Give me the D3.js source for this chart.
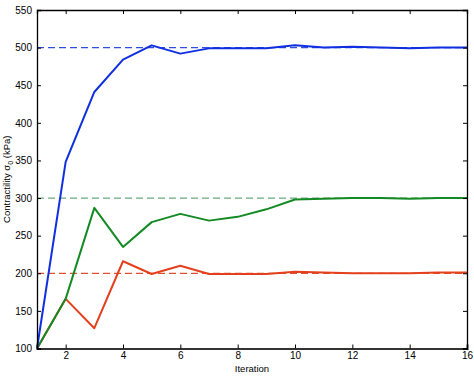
<!DOCTYPE html>
<html>
<head>
<meta charset="utf-8">
<script src="https://cdn.jsdelivr.net/npm/d3@7"></script>
<style>
  body { margin: 0; background: #fff; }
  text { font-family: "Liberation Sans", Arial, sans-serif; }
</style>
</head>
<body>
<div id="chart"></div>
<script>
// iterations and contractility estimates (kPa)
var iterations = d3.range(1, 17);
var blueVals  = [100, 348, 441, 484, 503, 492, 499, 499, 499, 503, 500, 501, 500, 499, 500, 500];
var greenVals = [100, 166, 287, 235, 268, 279, 270, 275, 285, 298, 299, 300, 300, 299, 300, 300];
var redVals   = [100, 166, 127, 216, 199, 210, 199, 199, 199, 202, 201, 200, 200, 200, 201, 201];
var targets = [500, 300, 200];
var xTicks = [2, 4, 6, 8, 10, 12, 14, 16];
var yTicks = [100, 150, 200, 250, 300, 350, 400, 450, 500, 550];

var series = [
  {vals: blueVals,  color: "#0f2fe0", dash: "#2f4fe0", target: targets[0]},
  {vals: greenVals, color: "#138a24", dash: "#6aa97a", target: targets[1]},
  {vals: redVals,   color: "#e5401e", dash: "#e0502e", target: targets[2]}
];

var W = 474, H = 376;
var margin = {top: 10, right: 7, bottom: 27.5, left: 37};
var width = W - margin.left - margin.right;
var height = H - margin.top - margin.bottom;

var svg = d3.select("#chart").append("svg")
    .attr("width", W)
    .attr("height", H);

var g = svg.append("g").attr("transform", "translate(" + margin.left + "," + margin.top + ")");

var x = d3.scaleLinear().domain([1, 16]).range([0, width]);
var y = d3.scaleLinear().domain([100, 550]).range([height, 0]);

// target dashed lines
series.forEach(function(s) {
  g.append("line")
    .attr("x1", 0).attr("x2", width)
    .attr("y1", y(s.target)).attr("y2", y(s.target))
    .attr("stroke", s.dash)
    .attr("stroke-width", 1.2)
    .attr("stroke-dasharray", "7,4");
});

var line = d3.line()
    .x(function(d, i) { return x(iterations[i]); })
    .y(function(d) { return y(d); });

// draw red first so blue/green sit like the reference
[series[2], series[1], series[0]].forEach(function(s) {
  g.append("path")
    .datum(s.vals)
    .attr("fill", "none")
    .attr("stroke", s.color)
    .attr("stroke-width", 2)
    .attr("stroke-linejoin", "round")
    .attr("d", line);
});

// axes, ticks inward on all four sides
var xb = g.append("g").attr("transform", "translate(0," + height + ")")
  .call(d3.axisBottom(x).tickValues(xTicks).tickSize(-4).tickPadding(3));
var xt = g.append("g")
  .call(d3.axisTop(x).tickValues(xTicks).tickSize(-4).tickFormat(""));
var yl = g.append("g")
  .call(d3.axisLeft(y).tickValues(yTicks).tickSize(-4).tickPadding(5));
var yr = g.append("g").attr("transform", "translate(" + width + ",0)")
  .call(d3.axisRight(y).tickValues(yTicks).tickSize(-4).tickFormat(""));

[xb, xt, yl, yr].forEach(function(a) {
  a.select(".domain").attr("stroke", "#000").attr("stroke-width", 1.3);
  a.selectAll(".tick line").attr("stroke", "#000");
  a.selectAll("text").attr("font-size", 10).attr("fill", "#000")
    .attr("font-family", "'Liberation Sans', Arial, sans-serif");
});
xb.select(".domain").attr("stroke", "#333").attr("stroke-width", 2);

// axis labels
svg.append("text")
  .attr("x", margin.left + width / 2)
  .attr("y", H - 4)
  .attr("text-anchor", "middle")
  .attr("font-size", 9.5)
  .text("Iteration");

var ylab = svg.append("text")
  .attr("transform", "translate(10," + (margin.top + height / 2) + ") rotate(-90)")
  .attr("text-anchor", "middle")
  .attr("font-size", 9.5);
ylab.append("tspan").text("Contractility \u03c3");
ylab.append("tspan").attr("dy", 3).attr("font-size", 7).text("0");
ylab.append("tspan").attr("dy", -3).text(" (kPa)");
</script>
</body>
</html>
